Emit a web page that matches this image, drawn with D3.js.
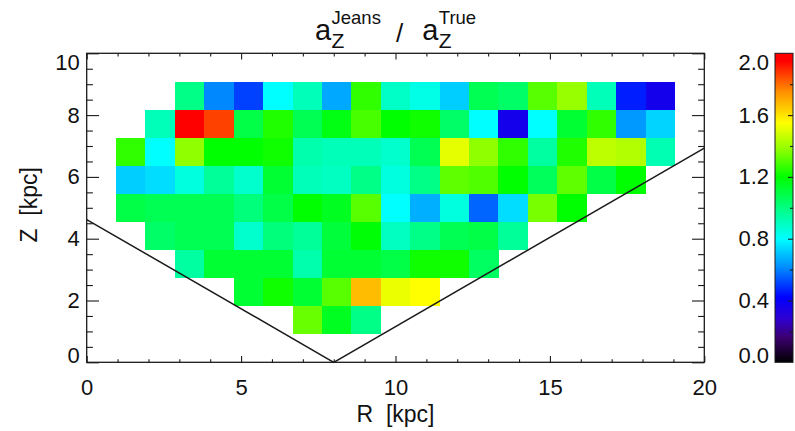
<!DOCTYPE html>
<html>
<head>
<meta charset="utf-8">
<script src="https://cdn.jsdelivr.net/npm/d3@7"></script>
<style>
  body { margin: 0; background: #fff; }
  svg { display: block; font-family: "Liberation Sans", Arial, Helvetica, sans-serif; }
  .lbl { white-space: pre; }
</style>
</head>
<body>
<svg id="chart" width="795" height="431"></svg>
<script>
"use strict";

// bin labels (kpc): 19 columns in R, 9 rows in Z
const rBins = [1, 2, 3, 4, 5, 6, 7, 8, 9, 10, 11, 12, 13, 14, 15, 16, 17, 18, 19];
const zBins = [1, 2, 3, 4, 5, 6, 7, 8, 9];

// a_Z(Jeans) / a_Z(True), one array per Z row (bottom to top), null = no data
const ratioZ1 = [null, null, null, null, null, null, 1.33, 1.15, 0.99, null, null, null, null, null, null, null, null, null, null];
const ratioZ2 = [null, null, null, null, 1.12, 1.22, 1.12, 1.31, 1.67, 1.52, 1.55, null, null, null, null, null, null, null, null];
const ratioZ3 = [null, null, 0.95, 1.12, 1.12, 1.12, 0.93, 1.12, 1.12, 1.09, 1.22, 1.22, 1.05, null, null, null, null, null, null];
const ratioZ4 = [null, 1.04, 1.07, 1.07, 0.88, 1.01, 0.96, 1.11, 1.19, 0.90, 0.99, 1.07, 1.09, 0.96, null, null, null, null, null];
const ratioZ5 = [1.09, 1.07, 1.07, 1.07, 1.01, 1.09, 1.20, 1.15, 1.31, 0.80, 0.67, 0.85, 0.56, 0.745, 1.35, 1.20, null, null, null];
const ratioZ6 = [0.72, 0.745, 0.85, 0.96, 0.88, 1.12, 0.91, 0.90, 0.99, 0.85, 0.99, 1.32, 1.30, 1.20, 1.06, 1.32, 1.09, 1.20, null];
const ratioZ7 = [1.26, 0.80, 1.38, 1.20, 1.20, 1.22, 0.93, 0.91, 0.91, 0.88, 1.07, 1.51, 1.38, 1.26, 0.95, 1.24, 1.45, 1.43, 0.92];
const ratioZ8 = [null, 0.91, 1.97, 1.86, 1.09, 1.24, 1.07, 1.17, 1.29, 1.20, 1.22, 1.04, 0.80, 0.36, 0.80, 1.12, 1.26, 0.635, 0.73];
const ratioZ9 = [null, null, 0.99, 0.61, 0.51, 0.80, 0.91, 0.66, 1.26, 0.89, 0.84, 0.72, 1.07, 1.04, 1.31, 1.39, 0.91, 0.46, 0.36];
const ratioRows = [ratioZ1, ratioZ2, ratioZ3, ratioZ4, ratioZ5, ratioZ6, ratioZ7, ratioZ8, ratioZ9];

// V-shaped boundary |Z| = tan(30deg)*|R-8|
const boundaryR = [0, 8, 20];
const boundaryZ = [4.62, 0, 6.93];

// ticks
const xMajor = [0, 5, 10, 15, 20];
const xMinor = [1, 2, 3, 4, 6, 7, 8, 9, 11, 12, 13, 14, 16, 17, 18, 19];
const yMajor = [0, 2, 4, 6, 8, 10];
const yMinor = [0.5, 1, 1.5, 2.5, 3, 3.5, 4.5, 5, 5.5, 6.5, 7, 7.5, 8.5, 9, 9.5];
const cMajor = [0, 0.4, 0.8, 1.2, 1.6, 2.0];
const cMinor = [0.2, 0.6, 1.0, 1.4, 1.8];

// IDL-like rainbow colour table
const cmapStops = [0, 0.16, 0.28, 0.42, 0.62, 0.8, 1.0, 1.2, 1.38, 1.55, 1.75, 1.95, 2.0];
const cmapColors = ["#000000", "#3c0070", "#3000d0", "#0000ff", "#0090ff", "#00ffff", "#00ff80",
                    "#00ff00", "#90ff00", "#ffff00", "#ff9000", "#ff0000", "#ff0000"];

const svg = d3.select("#chart");
const P = { left: 86.7, right: 704.3, top: 53.3, bottom: 362.3 };
const INK = "#1a1a1a";

const x = d3.scaleLinear().domain([0, 20]).range([P.left, P.right]);
const y = d3.scaleLinear().domain([0, 10]).range([P.bottom, P.top]);
const color = d3.scaleLinear().domain(cmapStops).range(cmapColors).interpolate(d3.interpolateRgb);

// image cells sit slightly inside the integer grid in the original plot
const xb = d3.scaleBand().domain(rBins).range([x(0.95), x(19.05)]);
const yb = d3.scaleBand().domain(zBins).range([y(0.92), y(9.08)]);

const cells = [];
ratioRows.forEach((row, i) => row.forEach((v, j) => {
  if (v != null) cells.push({ r: rBins[j], z: zBins[i], v });
}));

svg.append("g").attr("shape-rendering", "crispEdges")
  .selectAll("rect").data(cells).join("rect")
  .attr("x", (d) => xb(d.r)).attr("y", (d) => yb(d.z))
  .attr("width", xb.bandwidth() + 0.4).attr("height", yb.bandwidth() + 0.4)
  .attr("fill", (d) => color(d.v));

svg.append("path")
  .datum(boundaryR.map((r, i) => [r, boundaryZ[i]]))
  .attr("d", d3.line().x((d) => x(d[0])).y((d) => y(d[1])))
  .attr("fill", "none").attr("stroke", INK).attr("stroke-width", 1.5);

// axes, ticks pointing inward on all four sides
function styleAxis(g, labelled) {
  g.select(".domain").remove();
  g.selectAll(".tick line").attr("stroke", INK).attr("stroke-width", 1.1);
  g.selectAll(".tick text").attr("fill", "#111").attr("font-size", 22).attr("font-family", null);
  if (!labelled) g.selectAll(".tick text").remove();
}
const XT = 0.02 * (P.bottom - P.top), YT = 0.02 * (P.right - P.left);

svg.append("g").attr("transform", `translate(0,${P.bottom})`)
  .call(d3.axisBottom(x).tickValues(xMajor).tickSize(-XT).tickPadding(17))
  .call((g) => styleAxis(g, true));
svg.append("g").attr("transform", `translate(0,${P.bottom})`)
  .call(d3.axisBottom(x).tickValues(xMinor).tickSize(-XT / 2).tickFormat(""))
  .call((g) => styleAxis(g, false));
svg.append("g").attr("transform", `translate(0,${P.top})`)
  .call(d3.axisTop(x).tickValues(xMajor).tickSize(-XT)).call((g) => styleAxis(g, false));
svg.append("g").attr("transform", `translate(0,${P.top})`)
  .call(d3.axisTop(x).tickValues(xMinor).tickSize(-XT / 2)).call((g) => styleAxis(g, false));

const yAxis = svg.append("g").attr("transform", `translate(${P.left},0)`)
  .call(d3.axisLeft(y).tickValues(yMajor).tickSize(-YT).tickPadding(7))
  .call((g) => styleAxis(g, true));
yAxis.selectAll(".tick text").filter((d) => d === 10).attr("dy", "0.72em");
yAxis.selectAll(".tick text").filter((d) => d === 0).attr("dy", "0");
svg.append("g").attr("transform", `translate(${P.left},0)`)
  .call(d3.axisLeft(y).tickValues(yMinor).tickSize(-YT / 2)).call((g) => styleAxis(g, false));
svg.append("g").attr("transform", `translate(${P.right},0)`)
  .call(d3.axisRight(y).tickValues(yMajor).tickSize(-YT)).call((g) => styleAxis(g, false));
svg.append("g").attr("transform", `translate(${P.right},0)`)
  .call(d3.axisRight(y).tickValues(yMinor).tickSize(-YT / 2)).call((g) => styleAxis(g, false));

svg.append("rect")
  .attr("x", P.left).attr("y", P.top).attr("width", P.right - P.left).attr("height", P.bottom - P.top)
  .attr("fill", "none").attr("stroke", INK).attr("stroke-width", 1.3);

// axis titles
svg.append("text").attr("class", "lbl")
  .attr("x", (P.left + P.right) / 2).attr("y", 421.5)
  .attr("text-anchor", "middle").attr("font-size", 23).attr("fill", "#111")
  .text("R  [kpc]");
svg.append("text").attr("class", "lbl")
  .attr("transform", `translate(36.5,${(P.top + P.bottom) / 2 - 3}) rotate(-90)`)
  .attr("text-anchor", "middle").attr("font-size", 23).attr("fill", "#111")
  .text("Z  [kpc]");

// title: a_Z^Jeans / a_Z^True, one text element with positioned tspans
const title = svg.append("text").attr("fill", "#111");
let cx = 0;
function piece(txt, size, base) {
  const t = title.append("tspan").attr("x", cx).attr("y", base).attr("font-size", size).text(txt);
  return t.node().getComputedTextLength();
}
function term(sup) {
  cx += piece("a", 29, 39.5) + 0.5;
  const w1 = piece(sup, 18.5, 24);
  const w2 = piece("Z", 21, 47.5);
  cx += Math.max(w1, w2);
}
term("Jeans");
cx += 15;
cx += piece("/", 26, 41.5);
cx += 19;
term("True");
title.attr("transform", `translate(${(P.left + P.right) / 2 - cx / 2},0)`);

// colour bar
const CB = { x: 775, w: 18 };
const cy = d3.scaleLinear().domain([0, 2]).range([P.bottom, P.top]);
const grad = svg.append("defs").append("linearGradient")
  .attr("id", "cbar").attr("x1", 0).attr("y1", 1).attr("x2", 0).attr("y2", 0);
grad.selectAll("stop").data(cmapStops).join("stop")
  .attr("offset", (d) => d / 2).attr("stop-color", (d) => color(d));
svg.append("rect")
  .attr("x", CB.x).attr("y", P.top).attr("width", CB.w).attr("height", P.bottom - P.top)
  .attr("fill", "url(#cbar)").attr("stroke", INK).attr("stroke-width", 1);

const cAxis = svg.append("g").attr("transform", `translate(${CB.x},0)`)
  .call(d3.axisLeft(cy).tickValues(cMajor).tickSize(0).tickPadding(6).tickFormat(d3.format(".1f")))
  .call((g) => styleAxis(g, true));
cAxis.selectAll(".tick text").filter((d) => d === 2).attr("dy", "0.72em");
cAxis.selectAll(".tick text").filter((d) => d === 0).attr("dy", "0");
svg.append("g").attr("transform", `translate(${CB.x + CB.w},0)`)
  .call(d3.axisLeft(cy).tickValues(cMajor.slice(1, -1)).tickSize(5)).call((g) => styleAxis(g, false));
svg.append("g").attr("transform", `translate(${CB.x + CB.w},0)`)
  .call(d3.axisLeft(cy).tickValues(cMinor).tickSize(3)).call((g) => styleAxis(g, false));
</script>
</body>
</html>
